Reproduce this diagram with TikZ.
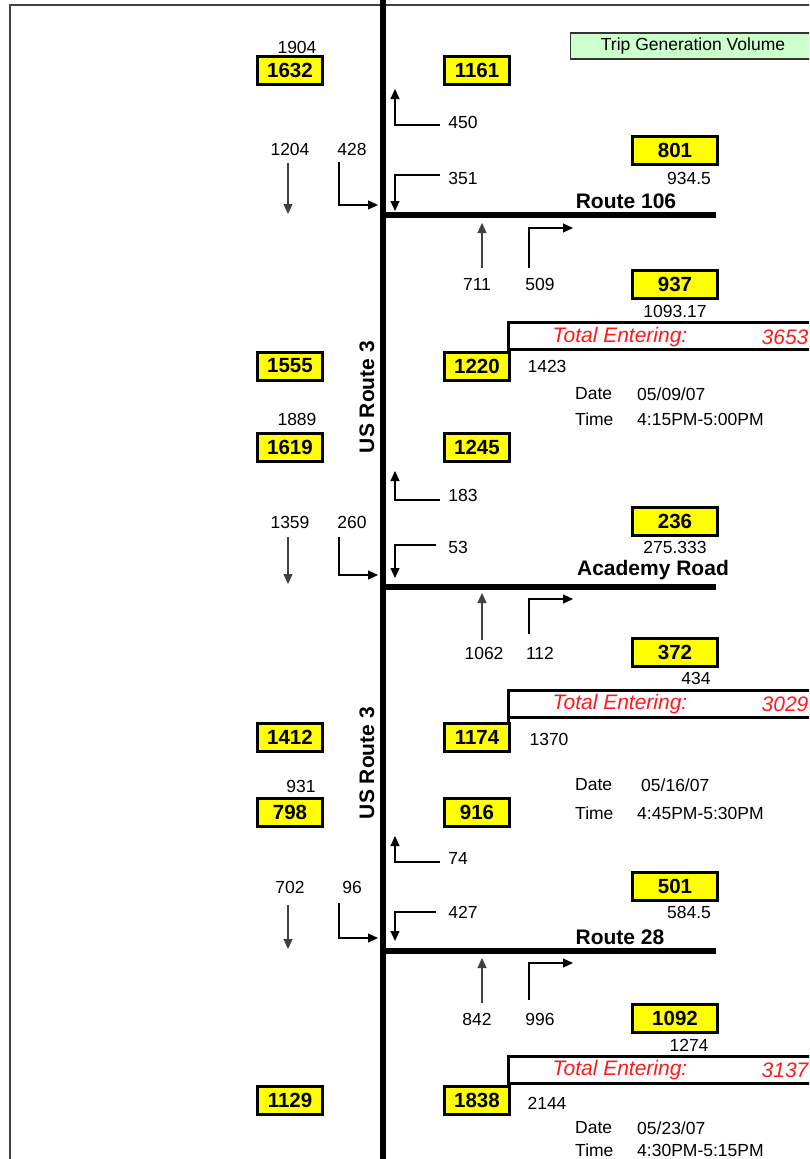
\documentclass[tikz,border=0pt]{standalone}
\usepackage{fontspec}
\setmainfont{Liberation Sans}
\usetikzlibrary{arrows.meta}
\definecolor{ybox}{HTML}{FFFF00}
\definecolor{gbox}{HTML}{CCFFCC}
\definecolor{tred}{HTML}{FF1A1A}
\tikzset{
  num/.style={inner sep=0pt,font=\fontsize{17.5}{19}\selectfont},
  yb/.style={draw=black,fill=ybox,line width=3pt,minimum width=65pt,minimum height=28pt,inner sep=0pt,font=\fontsize{20.5}{22}\selectfont\bfseries},
  ybw/.style={yb,minimum width=85pt},
  road/.style={line width=6.5pt},
  arr/.style={line width=1.2pt,-{Triangle[length=10pt,width=9pt]}},
  rlab/.style={inner sep=0pt,font=\fontsize{21}{23}\selectfont\bfseries},
  tot/.style={inner sep=0pt,text=tred,font=\fontsize{21}{23}\selectfont\itshape},
  totbox/.style={line width=3pt},
  lab/.style={inner sep=0pt,anchor=west,font=\fontsize{17.5}{19}\selectfont},
}
\begin{document}
\begin{tikzpicture}[x=1pt,y=-1pt]
\useasboundingbox (0,0) rectangle (809,1159);
\clip (0,0) rectangle (809,1159);
\fill[white] (0,0) rectangle (809,1159);
% frame
\coordinate (fr1) at (10,1170);
\coordinate (fr2) at (10,5);
\coordinate (fr3) at (820,5);
\draw[line width=2pt,black!75] (fr1) -- (fr2) -- (fr3);
% green title
\node[draw=black!80,fill=gbox,line width=1.2pt,minimum width=260pt,minimum height=26pt,anchor=west,inner sep=0pt] (title) at (570,46) {};
\node[num] (titletxt) at (693,46) {Trip Generation Volume};
% main road
\coordinate (m1) at (383,0);
\coordinate (m2) at (383,1170);
\draw[road] (m1) -- (m2);
% horizontal roads
\coordinate (r1a) at (380,215); \coordinate (r1b) at (716,215);
\coordinate (r2a) at (380,587); \coordinate (r2b) at (716,587);
\coordinate (r3a) at (380,951); \coordinate (r3b) at (716,951);
\draw[road] (r1a) -- (r1b);
\draw[road] (r2a) -- (r2b);
\draw[road] (r3a) -- (r3b);
% road labels
\node[rlab] (rt106) at (626,201) {Route 106};
\node[rlab] (acad) at (653,570) {Academy Road};
\node[rlab] (rt28) at (620,937) {Route 28};
\node[rlab,rotate=90] (us1) at (367,397) {US Route 3};
\node[rlab,rotate=90] (us2) at (367,763) {US Route 3};

% ================= Section 1
\node[num] (n1904) at (297,47) {1904};
\node[yb] (b1632) at (290,70) {1632};
\node[yb] (b1161) at (477,70) {1161};
\coordinate (a450s) at (440,125); \coordinate (a450e) at (395,89);
\draw[arr] (a450s) -| (a450e);
\node[num] (n450) at (463,122) {450};
\node[num] (n1204) at (290,149) {1204};
\coordinate (a1204s) at (288,163); \coordinate (a1204e) at (288,214);
\draw[arr,black!75] (a1204s) -- (a1204e);
\node[num] (n428) at (352,149) {428};
\coordinate (a428s) at (339,162); \coordinate (a428e) at (378,205);
\draw[arr] (a428s) |- (a428e);
\coordinate (a351s) at (440,175); \coordinate (a351e) at (395,211);
\draw[arr] (a351s) -| (a351e);
\node[num] (n351) at (463,178) {351};
\node[ybw] (b801) at (675,150) {801};
\node[num] (n934) at (689,178) {934.5};
\coordinate (a711s) at (482,268); \coordinate (a711e) at (482,223);
\draw[arr,black!75] (a711s) -- (a711e);
\coordinate (a509s) at (529,268); \coordinate (a509e) at (573,228);
\draw[arr] (a509s) |- (a509e);
\node[num] (n711) at (477,284) {711};
\node[num] (n509) at (540,284) {509};
\node[ybw] (b937) at (675,284) {937};
\node[num] (n1093) at (675,311) {1093.17};
\coordinate (t1a) at (508,353); \coordinate (t1b) at (508,322); \coordinate (t1c) at (820,322);
\coordinate (t1d) at (508,349); \coordinate (t1e) at (820,349);
\draw[totbox] (t1a) -- (t1b) -- (t1c);
\draw[totbox] (t1d) -- (t1e);
\node[tot] (te1) at (620,337) {Total Entering:};
\node[tot] (tv1) at (785,337) {3653};
\node[yb] (b1555) at (290,366) {1555};
\node[yb] (b1220) at (477,366) {1220};
\node[num] (n1423) at (547,366) {1423};
\node[lab] (d1) at (575,394) {Date};
\node[lab] (dv1) at (637,394) {05/09/07};
\node[lab] (tm1) at (575,419) {Time};
\node[lab] (tmv1) at (637,419) {4:15PM-5:00PM};
\node[num] (n1889) at (297,419) {1889};
\node[yb] (b1619) at (290,447) {1619};
\node[yb] (b1245) at (477,447) {1245};

% ================= Section 2
\coordinate (a183s) at (440,500); \coordinate (a183e) at (395,471);
\draw[arr] (a183s) -| (a183e);
\node[num] (n183) at (463,495) {183};
\node[num] (n1359) at (290,522) {1359};
\coordinate (a1359s) at (288,537); \coordinate (a1359e) at (288,584);
\draw[arr,black!75] (a1359s) -- (a1359e);
\node[num] (n260) at (352,522) {260};
\coordinate (a260s) at (339,537); \coordinate (a260e) at (378,575);
\draw[arr] (a260s) |- (a260e);
\coordinate (a53s) at (436,545); \coordinate (a53e) at (395,578);
\draw[arr] (a53s) -| (a53e);
\node[num] (n53) at (458,547) {53};
\node[ybw] (b236) at (675,521) {236};
\node[num] (n275) at (675,547) {275.333};
\coordinate (a1062s) at (482,640); \coordinate (a1062e) at (482,593);
\draw[arr,black!75] (a1062s) -- (a1062e);
\coordinate (a112s) at (529,634); \coordinate (a112e) at (573,599);
\draw[arr] (a112s) |- (a112e);
\node[num] (n1062) at (484,653) {1062};
\node[num] (n112) at (540,653) {112};
\node[ybw] (b372) at (675,652) {372};
\node[num] (n434) at (696,678) {434};
\coordinate (t2a) at (508,724); \coordinate (t2b) at (508,690); \coordinate (t2c) at (820,690);
\coordinate (t2d) at (508,717); \coordinate (t2e) at (820,717);
\draw[totbox] (t2a) -- (t2b) -- (t2c);
\draw[totbox] (t2d) -- (t2e);
\node[tot] (te2) at (620,704) {Total Entering:};
\node[tot] (tv2) at (785,704) {3029};
\node[yb] (b1412) at (290,737) {1412};
\node[yb] (b1174) at (477,737) {1174};
\node[num] (n1370) at (549,739) {1370};
\node[lab] (d2) at (575,785) {Date};
\node[lab] (dv2) at (641,785) {05/16/07};
\node[lab] (tm2) at (575,813) {Time};
\node[lab] (tmv2) at (637,813) {4:45PM-5:30PM};
\node[num] (n931) at (301,786) {931};
\node[yb] (b798) at (290,812) {798};
\node[yb] (b916) at (477,812) {916};

% ================= Section 3
\coordinate (a74s) at (440,862); \coordinate (a74e) at (395,836);
\draw[arr] (a74s) -| (a74e);
\node[num] (n74) at (458,858) {74};
\node[num] (n702) at (290,887) {702};
\coordinate (a702s) at (288,905); \coordinate (a702e) at (288,949);
\draw[arr,black!75] (a702s) -- (a702e);
\node[num] (n96) at (352,887) {96};
\coordinate (a96s) at (339,903); \coordinate (a96e) at (378,938);
\draw[arr] (a96s) |- (a96e);
\coordinate (a427s) at (436,912); \coordinate (a427e) at (395,941);
\draw[arr] (a427s) -| (a427e);
\node[num] (n427) at (463,912) {427};
\node[ybw] (b501) at (675,886) {501};
\node[num] (n584) at (689,912) {584.5};
\coordinate (a842s) at (482,1003); \coordinate (a842e) at (482,958);
\draw[arr,black!75] (a842s) -- (a842e);
\coordinate (a996s) at (529,1000); \coordinate (a996e) at (573,963);
\draw[arr] (a996s) |- (a996e);
\node[num] (n842) at (477,1019) {842};
\node[num] (n996) at (540,1019) {996};
\node[ybw] (b1092) at (675,1018) {1092};
\node[num] (n1274) at (689,1045) {1274};
\coordinate (t3a) at (508,1087); \coordinate (t3b) at (508,1056); \coordinate (t3c) at (820,1056);
\coordinate (t3d) at (508,1083); \coordinate (t3e) at (820,1083);
\draw[totbox] (t3a) -- (t3b) -- (t3c);
\draw[totbox] (t3d) -- (t3e);
\node[tot] (te3) at (620,1070) {Total Entering:};
\node[tot] (tv3) at (785,1070) {3137};
\node[yb] (b1129) at (290,1100) {1129};
\node[yb] (b1838) at (477,1100) {1838};
\node[num] (n2144) at (547,1103) {2144};
\node[lab] (d3) at (575,1128) {Date};
\node[lab] (dv3) at (637,1128) {05/23/07};
\node[lab] (tm3) at (575,1150) {Time};
\node[lab] (tmv3) at (637,1150) {4:30PM-5:15PM};
\end{tikzpicture}
\end{document}
